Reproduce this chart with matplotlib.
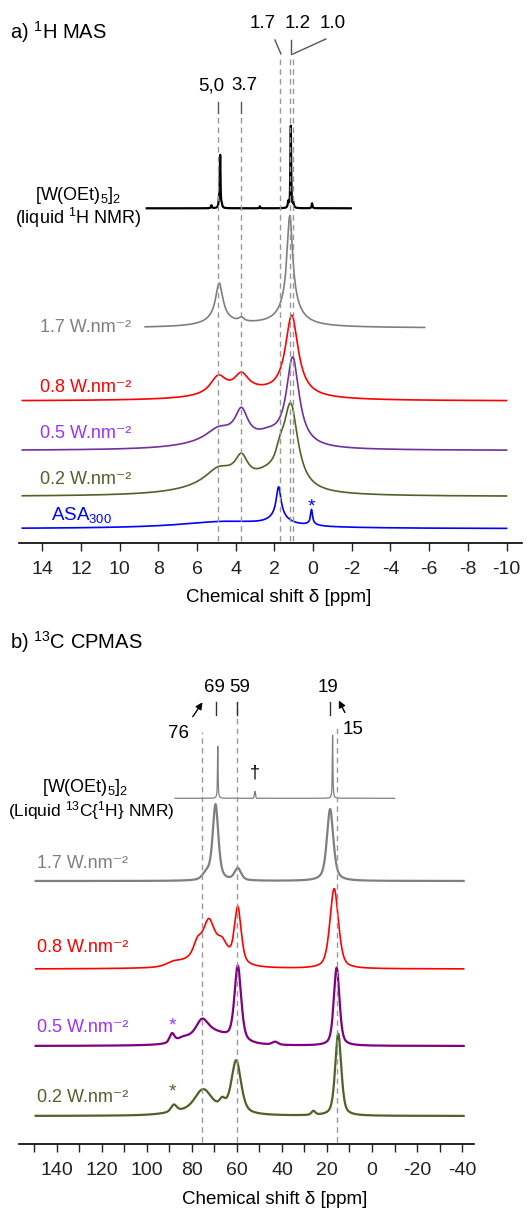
import numpy as np
import matplotlib
matplotlib.use("Agg")
import matplotlib.pyplot as plt

plt.rcParams['font.family'] = ['Liberation Sans', 'DejaVu Sans']
plt.rcParams['mathtext.fontset'] = 'custom'
plt.rcParams['mathtext.rm'] = 'Liberation Sans'
plt.rcParams['mathtext.it'] = 'Liberation Sans:italic'
plt.rcParams['mathtext.default'] = 'regular'
plt.rcParams['axes.unicode_minus'] = False

W, H = 527, 1211

# ---- data: peak lists (centre ppm, height, fwhm ppm, lorentz fraction) ----
# panel a, 1H MAS
h_liquid = [(4.80, 52, 0.04, 1), (4.86, 8, 0.05, 1), (4.72, 3, 0.05, 1), (5.25, 3, 0.05, 1),
            (2.75, 2, 0.04, 1), (1.15, 82, 0.04, 1), (1.28, 6, 0.06, 1), (1.02, 5, 0.06, 1),
            (0.05, 5, 0.05, 1)]
h_17 = [(4.85, 36, 0.45, 1), (4.9, 6, 1.5, 1), (3.7, 4, 0.3, 1), (1.2, 90, 0.35, 1),
        (1.2, 20, 1.2, 1), (3.0, 3, 6, 1)]
h_08 = [(4.9, 18, 1.0, 1), (3.7, 17, 0.9, 1), (1.1, 80, 0.8, 1), (3.0, 8, 5, 1)]
h_05 = [(3.7, 28, 0.8, 1), (4.9, 10, 1.5, 1), (4.5, 10, 4, 1), (1.05, 88, 0.8, 1), (2.3, 8, 1.5, 1)]
h_02 = [(3.7, 22, 0.8, 1), (4.9, 12, 1.6, 1), (4.5, 14, 4, 1), (1.7, 17, 0.6, 1),
        (1.15, 82, 0.9, 1), (2.4, 10, 1.6, 1)]
h_asa = [(4.5, 7, 6, 1), (1.78, 30, 0.3, 1), (1.78, 8, 1.2, 1), (0.08, 14, 0.12, 1), (0.08, 2, 0.6, 1)]

# panel b, 13C CPMAS
c_liquid = [(68.5, 52, 0.3, 1), (17.5, 63, 0.3, 1), (52.0, 7, 0.6, 0)]
c_17 = [(69.5, 76, 3.0, 0.6), (73.5, 6, 4, 0.3), (59.6, 12, 3.5, 0.5), (18.6, 72, 3.4, 0.6)]
c_08 = [(59.6, 55, 3.5, 0.5), (16.8, 80, 4.5, 0.5), (72.5, 28, 5.5, 0.5), (77.5, 12, 4, 0.5),
        (66.5, 12, 5, 0.5), (72, 20, 18, 0.5), (88, 4, 8, 0.5)]
c_05 = [(59.6, 75, 3.5, 0.5), (15.7, 78, 3, 0.5), (75.5, 14, 6, 0.5), (72, 14, 20, 0.5),
        (88.8, 9, 2.5, 0.5), (84, 3, 6, 0.5), (43, 3, 3, 0.5)]
c_02 = [(15, 82, 3.2, 0.5), (60.3, 52, 5, 0.5), (75, 18, 8, 0.3), (66.5, 8, 3, 0.5),
        (75, 8, 25, 0.5), (88, 7, 3, 0.5), (26, 4, 2, 0.5)]

# (peaks, baseline offset, ppm start, ppm end, colour, linewidth)
traces_a = [
    (h_liquid, 334.7, 8.6, -1.95, 'black', 1.6),
    (h_17, 215, 8.68, -5.77, '#7f7f7f', 1.2),
    (h_08, 142, 15.03, -10.0, '#ff0000', 1.2),
    (h_05, 92.5, 15.03, -10.0, '#7030a0', 1.2),
    (h_02, 46.5, 15.03, -10.0, '#4f6228', 1.2),
    (h_asa, 14.3, 15.03, -10.0, '#0000ff', 1.2),
]
traces_b = [
    (c_liquid, 345.7, 87.5, -10.0, '#7f7f7f', 0.9),
    (c_17, 263, 149.4, -40.7, '#7f7f7f', 1.6),
    (c_08, 175, 149.4, -40.7, '#ff0000', 1.2),
    (c_05, 98, 149.4, -40.7, '#800080', 1.6),
    (c_02, 28, 149.4, -40.7, '#4f6228', 1.6),
]

dash_a = [4.9, 3.7, 1.7, 1.2, 1.03]
dash_b = [75.6, 59.8, 15.5]


def spectrum(x, peaks):
    y = np.zeros_like(x)
    for c, h, w, eta in peaks:
        d = (x - c) / (w / 2)
        y += h * (eta / (1 + d ** 2) + (1 - eta) * np.exp(-np.log(2) * d ** 2))
    return y


def frac(px, py):
    return px / W, 1 - py / H


fig = plt.figure(figsize=(W / 100, H / 100), dpi=100)
fs = 13.5
fl = 13

# ---------------- panel a ----------------
axa = fig.add_axes([19 / W, 1 - 543 / H, (522 - 19) / W, 543 / H])
for peaks, base, x0, x1, col, lw in traces_a:
    x = np.arange(x1, x0, 0.002)
    axa.plot(x, base + spectrum(x, peaks), color=col, lw=lw)

dcol = '#999999'
for p in dash_a:
    top = 426 if p > 3 else 485
    axa.plot([p, p], [2, top], color=dcol, lw=1, ls=(0, (4, 3)))
for p in [4.9, 3.7]:
    axa.plot([p, p], [430, 441], color='#555555', lw=1)
axa.plot([1.97, 1.66], [503, 489], color='#555555', lw=1)
axa.plot([1.16, 1.16], [503, 489], color='#555555', lw=1)
axa.plot([-0.66, 1.04], [504, 489], color='#555555', lw=1)
for txt, p, yy in [('5,0', 5.24, 457), ('3.7', 3.55, 457), ('1.7', 2.59, 520),
                   ('1.2', 0.79, 520), ('1.0', -1.02, 520)]:
    axa.text(p, yy, txt, ha='center', va='center', fontsize=fs)
axa.text(0.08, 36, '*', color='#0000ff', ha='center', va='center', fontsize=14)

axa.set_xlim(15.2, -10.8)
axa.set_ylim(0, 543)
axa.set_xticks(np.arange(14, -11, -2))
axa.set_yticks([])
for s in ['top', 'left', 'right']:
    axa.spines[s].set_visible(False)
axa.spines['bottom'].set_linewidth(1.2)
axa.tick_params(axis='x', length=6, width=1, labelsize=14, pad=7, colors='#222222')

fig.text(*frac(10, 32), 'a) $^{1}$H MAS', fontsize=14.5, va='center', ha='left')
fig.text(*frac(78, 195), '[W(OEt)$_5$]$_2$', fontsize=fl, va='center', ha='center')
fig.text(*frac(78, 218), '(liquid $^{1}$H NMR)', fontsize=fl, va='center', ha='center')
fig.text(*frac(40, 328), '1.7 W.nm⁻²', color='#7f7f7f', fontsize=fl, va='center')
fig.text(*frac(40, 387), '0.8 W.nm⁻²', color='#ff0000', fontsize=fl, va='center')
fig.text(*frac(40, 433), '0.5 W.nm⁻²', color='#9933ff', fontsize=fl, va='center')
fig.text(*frac(40, 480), '0.2 W.nm⁻²', color='#4f6228', fontsize=fl, va='center')
fig.text(*frac(51, 515), 'ASA$_{300}$', color='#0000ff', fontsize=fs, va='center')
fig.text(*frac(279, 598), 'Chemical shift δ [ppm]', fontsize=13.5, va='center', ha='center')

# ---------------- panel b ----------------
axb = fig.add_axes([19 / W, 1 - 1144 / H, (474 - 19) / W, (1144 - 610) / H])
for peaks, base, x0, x1, col, lw in traces_b:
    x = np.arange(x1, x0, 0.02)
    axb.plot(x, base + spectrum(x, peaks), color=col, lw=lw)

tops_b = {75.6: 412, 59.8: 442, 15.5: 419}
for p in dash_b:
    axb.plot([p, p], [2, tops_b[p]], color=dcol, lw=1, ls=(0, (4, 3)))
for p in [69.5, 60.0, 18.7]:
    axb.plot([p, p], [442, 429], color='#333333', lw=1)
axb.annotate('', xy=(74.6, 444), xytext=(80.3, 425),
             arrowprops=dict(arrowstyle='-|>', color='black', lw=1, mutation_scale=10))
axb.annotate('', xy=(15.3, 446), xytext=(11.5, 429),
             arrowprops=dict(arrowstyle='-|>', color='black', lw=1, mutation_scale=10))
for txt, p, yy in [('69', 70.0, 456), ('59', 58.6, 456), ('19', 19.5, 456),
                   ('76', 86.0, 410), ('15', 8.2, 414)]:
    axb.text(p, yy, txt, ha='center', va='center', fontsize=fs)
axb.text(52.0, 371, '†', ha='center', va='center', fontsize=13)
axb.text(88.6, 118, '*', color='#9933ff', ha='center', va='center', fontsize=14)
axb.text(88.6, 52, '*', color='#4f6228', ha='center', va='center', fontsize=14)

axb.set_xlim(156.8, -45.3)
axb.set_ylim(0, 534)
ticks_b = np.arange(150, -41, -10)
axb.set_xticks(ticks_b)
axb.set_xticklabels([str(t) if t % 20 == 0 else '' for t in ticks_b])
axb.set_yticks([])
for s in ['top', 'left', 'right']:
    axb.spines[s].set_visible(False)
axb.spines['bottom'].set_linewidth(1.2)
axb.tick_params(axis='x', length=6, width=1, labelsize=14, pad=7, colors='#222222')

fig.text(*frac(10, 642), 'b) $^{13}$C CPMAS', fontsize=14.5, va='center', ha='left')
fig.text(*frac(85, 788), '[W(OEt)$_5$]$_2$', fontsize=fl, va='center', ha='center')
fig.text(*frac(91, 811), '(Liquid $^{13}$C{$^{1}$H} NMR)', fontsize=12.5, va='center', ha='center')
fig.text(*frac(37, 863), '1.7 W.nm⁻²', color='#7f7f7f', fontsize=fl, va='center')
fig.text(*frac(37, 947), '0.8 W.nm⁻²', color='#ff0000', fontsize=fl, va='center')
fig.text(*frac(37, 1027), '0.5 W.nm⁻²', color='#9933ff', fontsize=fl, va='center')
fig.text(*frac(37, 1097), '0.2 W.nm⁻²', color='#4f6228', fontsize=fl, va='center')
fig.text(*frac(275, 1200), 'Chemical shift δ [ppm]', fontsize=13.5, va='center', ha='center')

fig.savefig('out.png', dpi=100)
